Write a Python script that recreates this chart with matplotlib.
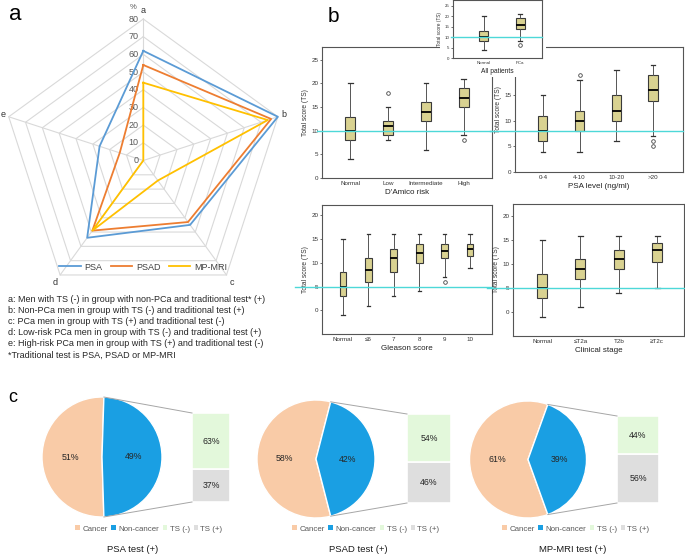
import numpy as np
import matplotlib
matplotlib.use('Agg')
import matplotlib.pyplot as plt
from matplotlib.patches import Rectangle
from matplotlib.lines import Line2D

plt.rcParams['font.family'] = ['Liberation Sans', 'DejaVu Sans']

# ---------------- data ----------------
# panel a (radar)
radar_labels = ['a', 'b', 'c', 'd', 'e']
radar_series = ['PSA', 'PSAD', 'MP-MRI']
psa_vals = [62, 80, 45, 54, 26]
psad_vals = [54, 76, 43, 49, 14]
mri_vals = [44, 74, 14, 49, 0]
radar_ticks = [0, 10, 20, 30, 40, 50, 60, 70, 80]
notes = [
    "a: Men with TS (-) in group with non-PCa and traditional test* (+)",
    "b: Non-PCa men in group with TS (-) and traditional test (+)",
    "c: PCa men in group with TS (+) and traditional test (-)",
    "d: Low-risk PCa men in group with TS (-) and traditional test (+)",
    "e: High-risk PCa men in group with TS (+) and traditional test (-)",
    "*Traditional test is PSA, PSAD or MP-MRI",
]

# panel b (box plots: whisker low, q1, median, q3, whisker high, outliers)
all_cats = ['Normal', 'PCa']
all_lo = [4, 8]; all_q1 = [8, 14]; all_med = [10, 16]; all_q3 = [13, 19]; all_hi = [20, 21]
all_fl = [[], [6]]

damico_cats = ['Normal', 'Low', 'Intermediate', 'High']
damico_lo = [4, 8, 6, 9]; damico_q1 = [8, 9, 12, 15]; damico_med = [10, 11, 14, 17]
damico_q3 = [13, 12, 16, 19]; damico_hi = [20, 15, 20, 21]
damico_fl = [[], [18], [], [8]]

psa_cats = ['0-4', '4-10', '10-20', '>20']
psa_lo = [4, 4, 6, 7]; psa_q1 = [6, 8, 10, 14]; psa_med = [8, 10, 12, 16]
psa_q3 = [11, 12, 15, 19]; psa_hi = [15, 18, 20, 21]
psa_fl = [[], [19], [], [6, 5]]

gleason_cats = ['Normal', '≤6', '7', '8', '9', '10']
gl_lo = [-1, 1, 3, 4, 7, 9]; gl_q1 = [3, 6, 8, 10, 11, 11.5]; gl_med = [5, 8.5, 11, 12, 12.5, 13]
gl_q3 = [8, 11, 13, 14, 14, 14]; gl_hi = [15, 16, 16, 16, 16, 16]
gl_fl = [[], [], [], [], [6], []]

stage_cats = ['Normal', '≤T2a', 'T2b', '≥T2c']
st_lo = [-1, 1, 4, 5]; st_q1 = [3, 7, 9, 10.5]; st_med = [5, 9, 11, 13]
st_q3 = [8, 11, 13, 14.5]; st_hi = [15, 16, 16, 16]
st_fl = [[], [], [], []]

ref_all, ref_damico, ref_psa, ref_gleason, ref_stage = 10, 10, 8, 5, 5

# panel c (pie of bar)
pie_titles = ['PSA test (+)', 'PSAD test (+)', 'MP-MRI test (+)']
cancer_pct = [51, 58, 61]
noncancer_pct = [49, 42, 39]
ts_neg_pct = [63, 54, 44]
ts_pos_pct = [37, 46, 56]
pie_legend = ['Cancer', 'Non-cancer', 'TS (-)', 'TS (+)']

# ---------------- figure ----------------
W, H = 685, 556
fig = plt.figure(figsize=(W / 100, H / 100), dpi=100)


def px_axes(x0, y0, x1, y1, **kw):
    return fig.add_axes([x0 / W, 1 - y1 / H, (x1 - x0) / W, (y1 - y0) / H], **kw)


# ================= panel a : radar =================
cx, cy, R = 143.3, 160.5, 141.5
half = 143
L = half * 80 / R
axr = px_axes(cx - half, cy - half, cx + half, cy + half)
axr.set_xlim(-L, L)
axr.set_ylim(-L, L)
axr.axis('off')
n = len(radar_labels)
theta = 2 * np.pi * np.arange(n) / n
sx, sy = np.sin(theta), np.cos(theta)
grid_c = '#D9D9D9'
for lv in radar_ticks[1:]:
    axr.plot(np.append(lv * sx, lv * sx[0]), np.append(lv * sy, lv * sy[0]),
             color=grid_c, lw=0.8, zorder=1)
for k in range(n):
    axr.plot([0, radar_ticks[-1] * sx[k]], [0, radar_ticks[-1] * sy[k]], color=grid_c, lw=0.8, zorder=1)
for lv in radar_ticks:
    axr.text(-2.6, lv, str(lv), ha='right', va='center', fontsize=6.5, color='#595959')
axr.text(-5.5, 86.5, '%', ha='center', va='center', fontsize=5.5, color='#595959')
for k, lab in enumerate(radar_labels):
    rr = 85 if k in (0, 2, 3) else 83.5
    axr.text(rr * sx[k], rr * sy[k], lab, ha='center', va='center', fontsize=6.5, color='#333333')
radar_colors = ['#5B9BD5', '#ED7D31', '#FFC000']
handles = []
for name, vals, col in zip(radar_series, [psa_vals, psad_vals, mri_vals], radar_colors):
    v = np.array(vals, dtype=float)
    ln, = axr.plot(np.append(v * sx, v[0] * sx[0]), np.append(v * sy, v[0] * sy[0]),
                   color=col, lw=1.3, zorder=3, label=name)
    handles.append(ln)
leg = axr.legend(handles=handles, loc='center', bbox_to_anchor=(143 / W, 1 - 267 / H),
                 bbox_transform=fig.transFigure, ncol=3, fontsize=6.5, frameon=False,
                 handlelength=2.4, columnspacing=0.9, handletextpad=0.4)
for t in leg.get_texts():
    t.set_color('#404040')

fig.text(15 / W, 1 - 15 / H, 'a', fontsize=16, ha='center', va='center')
for i, line in enumerate(notes):
    fig.text(8 / W, 1 - (299 + 11.2 * i) / H, line, fontsize=6.5, va='center', color='#262626')

# ================= panel b : box plots =================
box_face = '#D9D291'
ref_col = '#4DD8D8'


def boxpanel(ax, cats, lo, q1, med, q3, hi, fl, ref, ylim, yticks, xlim, width,
             xlabel, fs_tick=4.5, fs_lab=5.8, fs_ylab=4.8, ref_xmin=-0.15):
    stats = [dict(med=med[i], q1=q1[i], q3=q3[i], whislo=lo[i], whishi=hi[i], fliers=fl[i])
             for i in range(len(cats))]
    pos = np.arange(1, len(cats) + 1)
    ax.bxp(stats, positions=pos, widths=width, patch_artist=True, manage_ticks=False,
           boxprops=dict(facecolor=box_face, edgecolor='#3a3a3a', lw=0.8),
           medianprops=dict(color='black', lw=1.3),
           whiskerprops=dict(color='#555555', lw=0.7),
           capprops=dict(color='#333333', lw=0.9), capwidths=width * 0.5,
           flierprops=dict(marker='o', ms=2.6, mfc='none', mec='#444444', mew=0.6))
    ax.axhline(ref, xmin=ref_xmin, xmax=1.0, color=ref_col, lw=1.0, clip_on=False, zorder=5)
    ax.set_xlim(*xlim)
    ax.set_ylim(*ylim)
    ax.set_yticks(yticks)
    ax.set_xticks(pos)
    ax.set_xticklabels(cats)
    ax.tick_params(axis='y', length=1.5, width=0.5, labelsize=fs_tick, pad=1, colors='#333333')
    ax.tick_params(axis='x', length=0, labelsize=fs_tick, pad=2, colors='#333333')
    ax.set_ylabel('Total score (TS)', fontsize=fs_ylab, labelpad=2, color='#333333')
    ax.set_xlabel(xlabel, fontsize=fs_lab, labelpad=2, color='#222222')
    for s in ax.spines.values():
        s.set_color('#555555')
        s.set_linewidth(0.8)


ax1 = px_axes(322, 47, 492, 178)
boxpanel(ax1, damico_cats, damico_lo, damico_q1, damico_med, damico_q3, damico_hi, damico_fl,
         ref_damico, (0, 27.7), [0, 5, 10, 15, 20, 25], (0.26, 4.74), 0.26, "D'Amico risk",
         ref_xmin=-0.03)

ax2 = px_axes(515, 47, 683, 172)
boxpanel(ax2, psa_cats, psa_lo, psa_q1, psa_med, psa_q3, psa_hi, psa_fl,
         ref_psa, (0, 24.5), [0, 5, 10, 15], (0.24, 4.82), 0.25, 'PSA level (ng/ml)')

ax3 = px_axes(322, 205, 492, 334)
boxpanel(ax3, gleason_cats, gl_lo, gl_q1, gl_med, gl_q3, gl_hi, gl_fl,
         ref_gleason, (-5, 22.2), [0, 5, 10, 15, 20], (0.18, 6.86), 0.26, 'Gleason score',
         ref_xmin=-0.16)

ax4 = px_axes(513, 204, 684, 336)
boxpanel(ax4, stage_cats, st_lo, st_q1, st_med, st_q3, st_hi, st_fl,
         ref_stage, (-5, 22.6), [0, 5, 10, 15, 20], (0.24, 4.70), 0.26, 'Clinical stage',
         ref_xmin=-0.15)

# white backdrop for inset
fig.patches.append(Rectangle((440 / W, 1 - 77 / H), 106 / W, 77 / H, transform=fig.transFigure,
                             facecolor='white', edgecolor='none', zorder=1))
ax0 = px_axes(453, 0, 542, 58)
ax0.set_zorder(2)
boxpanel(ax0, all_cats, all_lo, all_q1, all_med, all_q3, all_hi, all_fl,
         ref_all, (0, 27.8), [0, 5, 10, 15, 20, 25], (0.14, 2.61), 0.25, 'All patients',
         fs_tick=3.2, fs_lab=4.8, fs_ylab=3.4, ref_xmin=-0.02)

fig.text(333 / W, 1 - 16 / H, 'b', fontsize=15, ha='center', va='center')

# ================= panel c : pie of bar =================
axc = px_axes(0, 385, 685, 525)
col_cancer, col_non, col_neg, col_pos = '#F9CBA7', '#1A9FE3', '#E3F8DB', '#DEDEDE'
centers = [(102, 99), (316, 97), (528, 96.5)]
radius = [60, 59, 58.5]
bar_left = [192, 407, 617]
bar_w = [38, 44, 42]
bar_bottom = [54, 53, 53]
bar_total = [89, 89, 87]
legend_cx = [149, 366, 576]
title_cx = [133, 358, 573]
for i in range(3):
    a_half = noncancer_pct[i] * 1.8
    start = 360 - (cancer_pct[i] * 3.6 + a_half)
    axc.pie([cancer_pct[i], noncancer_pct[i]], colors=[col_cancer, col_non], center=centers[i],
            radius=radius[i], startangle=start, counterclock=True, frame=True,
            wedgeprops=dict(edgecolor='white', lw=1.0),
            autopct='%1.0f%%', pctdistance=0.53, textprops=dict(fontsize=6.3, color='#262626'))
    hpos = ts_pos_pct[i] / 100 * bar_total[i]
    hneg = ts_neg_pct[i] / 100 * bar_total[i]
    axc.bar(bar_left[i], hpos, width=bar_w[i], bottom=bar_bottom[i], align='edge',
            color=col_pos, edgecolor='white', lw=1.2)
    axc.bar(bar_left[i], hneg, width=bar_w[i], bottom=bar_bottom[i] + hpos, align='edge',
            color=col_neg, edgecolor='white', lw=1.2)
    axc.text(bar_left[i] + bar_w[i] / 2, bar_bottom[i] + hpos / 2, f'{ts_pos_pct[i]}%',
             ha='center', va='center', fontsize=6.3, color='#262626')
    axc.text(bar_left[i] + bar_w[i] / 2, bar_bottom[i] + hpos + hneg / 2, f'{ts_neg_pct[i]}%',
             ha='center', va='center', fontsize=6.3, color='#262626')
    ang = np.deg2rad(a_half)
    cxp, cyp = centers[i]
    top_pt = (cxp + radius[i] * np.cos(ang), cyp + radius[i] * np.sin(ang))
    bot_pt = (cxp + radius[i] * np.cos(ang), cyp - radius[i] * np.sin(ang))
    axc.plot([top_pt[0], bar_left[i]], [top_pt[1], bar_bottom[i] + bar_total[i]],
             color='#A6A6A6', lw=0.7)
    axc.plot([bot_pt[0], bar_left[i]], [bot_pt[1], bar_bottom[i]], color='#A6A6A6', lw=0.7)
    hs = [Rectangle((0, 0), 1, 1, facecolor=c) for c in [col_cancer, col_non, col_neg, col_pos]]
    lg = fig.legend(hs, pie_legend, loc='center', bbox_to_anchor=(legend_cx[i] / W, 1 - 529 / H),
                    ncol=4, fontsize=5.7, frameon=False, handlelength=0.55, handleheight=0.55,
                    handletextpad=0.3, columnspacing=0.5, borderpad=0)
    for t in lg.get_texts():
        t.set_color('#595959')
    fig.text(title_cx[i] / W, 1 - 550 / H, pie_titles[i], ha='center', va='center',
             fontsize=6.8, color='#1a1a1a')

axc.set_xlim(0, 685)
axc.set_ylim(556 - 525, 556 - 385)
axc.set_aspect('auto')
axc.axis('off')

fig.text(13 / W, 1 - 398 / H, 'c', fontsize=13, ha='center', va='center')

fig.savefig('out.png', dpi=100)
